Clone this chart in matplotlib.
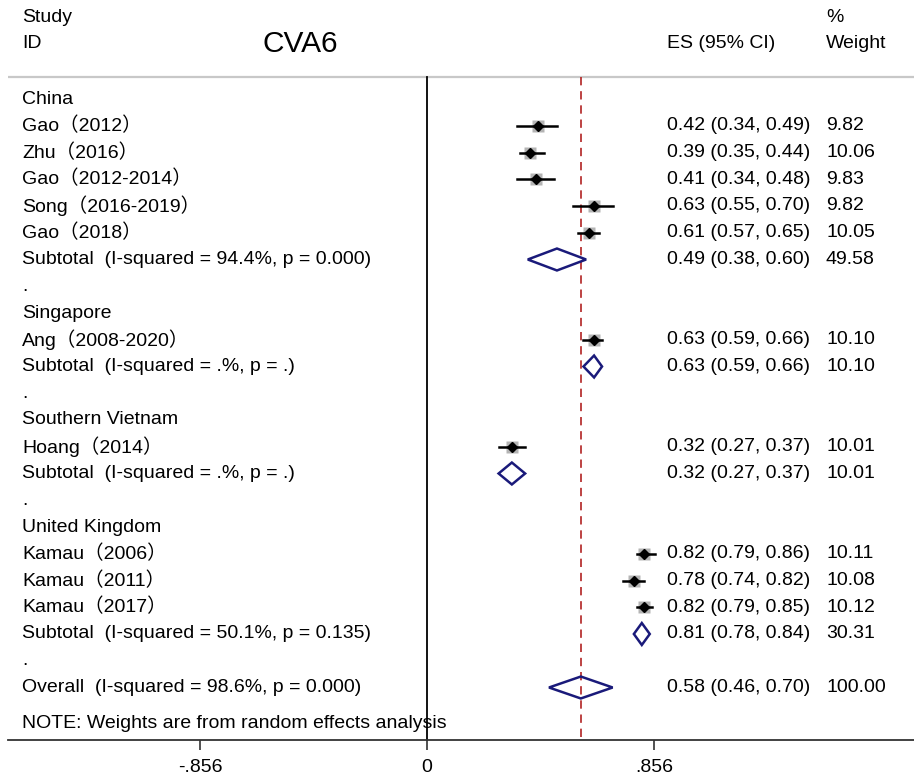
import matplotlib
matplotlib.use("Agg")
import matplotlib.pyplot as plt
from matplotlib.patches import Polygon

plt.rcParams["font.family"] = ["Liberation Sans", "Noto Sans CJK SC", "DejaVu Sans"]

# ── Data ───────────────────────────────────────────────────────────────
# row kinds: "head" group header, "study", "sub" subtotal/overall diamond, "gap" dot row
row_labels = [
    "China", "Gao（2012）", "Zhu（2016）", "Gao（2012-2014）", "Song（2016-2019）", "Gao（2018）",
    "Subtotal  (I-squared = 94.4%, p = 0.000)", ".",
    "Singapore", "Ang（2008-2020）", "Subtotal  (I-squared = .%, p = .)", ".",
    "Southern Vietnam", "Hoang（2014）", "Subtotal  (I-squared = .%, p = .)", ".",
    "United Kingdom", "Kamau（2006）", "Kamau（2011）", "Kamau（2017）",
    "Subtotal  (I-squared = 50.1%, p = 0.135)", ".",
    "Overall  (I-squared = 98.6%, p = 0.000)",
]
row_kind = [
    "head", "study", "study", "study", "study", "study", "sub", "gap",
    "head", "study", "sub", "gap",
    "head", "study", "sub", "gap",
    "head", "study", "study", "study", "sub", "gap",
    "sub",
]
es = [None, 0.42, 0.39, 0.41, 0.63, 0.61, 0.49, None,
      None, 0.63, 0.63, None,
      None, 0.32, 0.32, None,
      None, 0.82, 0.78, 0.82, 0.81, None,
      0.58]
lo = [None, 0.34, 0.35, 0.34, 0.55, 0.57, 0.38, None,
      None, 0.59, 0.59, None,
      None, 0.27, 0.27, None,
      None, 0.79, 0.74, 0.79, 0.78, None,
      0.46]
hi = [None, 0.49, 0.44, 0.48, 0.70, 0.65, 0.60, None,
      None, 0.66, 0.66, None,
      None, 0.37, 0.37, None,
      None, 0.86, 0.82, 0.85, 0.84, None,
      0.70]
weight = [None, 9.82, 10.06, 9.83, 9.82, 10.05, 49.58, None,
          None, 10.10, 10.10, None,
          None, 10.01, 10.01, None,
          None, 10.11, 10.08, 10.12, 30.31, None,
          100.00]
overall_es = 0.58
tick_vals = [-0.856, 0, 0.856]
tick_labels = ["-.856", "0", ".856"]

# ── Layout (pixel geometry of the reference) ───────────────────────────
W, H = 914, 781
PX_PER_UNIT = 265.2
X0_PX = 427
ROW0_PX, ROW_STEP = 99, 26.75

def px_x(px):
    return (px - X0_PX) / PX_PER_UNIT

def px_y(px):
    return (px - ROW0_PX) / ROW_STEP

fig = plt.figure(figsize=(W / 100, H / 100), dpi=100)
ax = fig.add_axes([0, 0, 1, 1])
ax.set_xlim(px_x(0), px_x(W))
ax.set_ylim(px_y(H), px_y(0))

FS = 14
lab_x = px_x(22)
es_x = px_x(667)
w_x = px_x(826)
sep_y = px_y(77)
axis_y = px_y(740)

# headers
ax.text(lab_x, px_y(18), "Study", fontsize=FS, va="center")
ax.text(lab_x, px_y(44), "ID", fontsize=FS, va="center")
ax.text(px_x(300), px_y(44), "CVA6", fontsize=21.5, va="center", ha="center")
ax.text(es_x, px_y(44), "ES (95% CI)", fontsize=FS, va="center")
ax.text(w_x, px_y(18), "%", fontsize=FS, va="center")
ax.text(w_x, px_y(44), "Weight", fontsize=FS, va="center")

# separator and reference lines
ax.plot([px_x(8), px_x(W)], [sep_y, sep_y], color="#c8c8c8", lw=1.6, solid_capstyle="butt")
ax.plot([0, 0], [sep_y, axis_y], color="black", lw=1.3)
ax.plot([overall_es, overall_es], [sep_y, axis_y], color="#b22222", lw=1.2,
        ls=(0, (5, 3.5)))

for i, (lab, kind) in enumerate(zip(row_labels, row_kind)):
    ax.text(lab_x, i, lab, fontsize=FS, va="center")
    if kind == "study":
        s = 9.0 * (weight[i] / 10.0) ** 0.5
        ax.plot(es[i], i, marker="s", ms=s, color="#b4b4b4", mec="none", zorder=2)
        ax.plot([lo[i], hi[i]], [i, i], color="black", lw=1.8, zorder=3)
        ax.plot(es[i], i, marker="D", ms=5, color="black", zorder=4)
    elif kind == "sub":
        dh = 0.41
        poly = Polygon([[lo[i], i], [es[i], i - dh], [hi[i], i], [es[i], i + dh]],
                       closed=True, fill=False, ec="#1a1a7a", lw=1.8, zorder=3)
        ax.add_patch(poly)
    if kind in ("study", "sub"):
        ax.text(es_x, i, f"{es[i]:.2f} ({lo[i]:.2f}, {hi[i]:.2f})", fontsize=FS, va="center")
        ax.text(w_x, i, f"{weight[i]:.2f}", fontsize=FS, va="center")

ax.text(lab_x, px_y(724), "NOTE: Weights are from random effects analysis", fontsize=FS, va="center")

# bottom axis
for sp in ["top", "right", "left"]:
    ax.spines[sp].set_visible(False)
ax.spines["bottom"].set_position(("data", axis_y))
ax.spines["bottom"].set_bounds(px_x(8), px_x(W))
ax.spines["bottom"].set_linewidth(1.3)
ax.spines["bottom"].set_color("#333333")
ax.set_yticks([])
ax.set_xticks(tick_vals)
ax.set_xticklabels(tick_labels, fontsize=FS)
ax.tick_params(axis="x", direction="out", length=7, width=1.2, color="#333333", pad=7)

fig.savefig("out.png", dpi=100)
